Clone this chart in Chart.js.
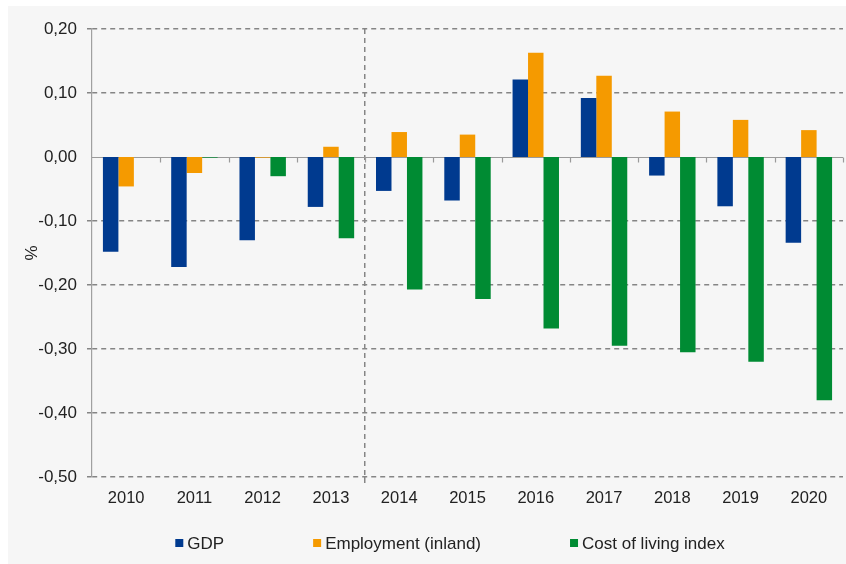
<!DOCTYPE html>
<html>
<head>
<meta charset="utf-8">
<script src="https://cdn.jsdelivr.net/npm/chart.js@4/dist/chart.umd.min.js"></script>
<style>
  html, body { margin: 0; padding: 0; background: #ffffff; }
  #wrap { width: 846px; height: 564px; }
</style>
</head>
<body>
<div id="wrap"><canvas id="c" width="846" height="564"></canvas></div>
<script>
const years = ['2010','2011','2012','2013','2014','2015','2016','2017','2018','2019','2020'];
const gdp = [-0.148, -0.172, -0.130, -0.078, -0.053, -0.068, 0.121, 0.092, -0.029, -0.077, -0.134];
const employment = [-0.046, -0.025, -0.001, 0.016, 0.039, 0.035, 0.163, 0.127, 0.071, 0.058, 0.042];
const costOfLiving = [0, -0.001, -0.030, -0.127, -0.207, -0.222, -0.268, -0.295, -0.305, -0.320, -0.380];
const seriesNames = ['GDP', 'Employment (inland)', 'Cost of living index'];
const seriesColors = ['#003a8f', '#f59a00', '#008b33'];
const yMin = -0.5, yMax = 0.2, yStep = 0.1;
const yTitle = '%';

const FONT = '"Liberation Sans", Arial, sans-serif';
const GRID = '#858585';

const panelPlugin = {
  id: 'panel',
  beforeDraw(chart) {
    const ctx = chart.ctx;
    ctx.save();
    ctx.fillStyle = '#ffffff';
    ctx.fillRect(0, 0, chart.width, chart.height);
    ctx.fillStyle = '#f6f6f6';
    ctx.fillRect(8, 6, chart.width - 8, chart.height - 6);
    ctx.restore();
  }
};

const zeroLinePlugin = {
  id: 'zeroLine',
  beforeDatasetsDraw(chart) {
    const {ctx, chartArea, scales} = chart;
    const y0 = Math.round(scales.y.getPixelForValue(0)) + 0.5;
    ctx.save();
    ctx.strokeStyle = '#9a9a9a';
    ctx.lineWidth = 1.2;
    ctx.beginPath();
    ctx.moveTo(chartArea.left, y0);
    ctx.lineTo(chartArea.right, y0);
    const n = years.length;
    const step = (scales.x.getPixelForValue(1) - scales.x.getPixelForValue(0));
    for (let i = 1; i <= n; i++) {
      const x = Math.round(scales.x.getPixelForValue(i) - step / 2) + 0.5;
      ctx.moveTo(x, y0);
      ctx.lineTo(x, y0 + 5);
    }
    ctx.stroke();
    ctx.restore();
  }
};

const legendPlugin = {
  id: 'customLegend',
  afterDraw(chart) {
    const ctx = chart.ctx;
    ctx.save();
    ctx.font = '17px ' + FONT;
    ctx.textBaseline = 'middle';
    const box = 8, gap = 4, spacing = 89;
    const items = chart.data.datasets.map(d => ({
      text: d.label, color: d.backgroundColor, w: ctx.measureText(d.label).width
    }));
    const total = items.reduce((s, it) => s + box + gap + it.w, 0) + spacing * (items.length - 1);
    let x = 450 - total / 2;
    const cy = 543;
    items.forEach(it => {
      ctx.fillStyle = it.color;
      ctx.fillRect(x, cy - box / 2, box, box);
      ctx.fillStyle = '#222222';
      ctx.fillText(it.text, x + box + gap, cy + 1);
      x += box + gap + it.w + spacing;
    });
    ctx.restore();
  }
};

const fmt = v => {
  const r = Math.round(v * 100) / 100;
  if (r === 0) return '0,00';
  return r.toFixed(2).replace('.', ',');
};

new Chart(document.getElementById('c'), {
  type: 'bar',
  data: {
    labels: years,
    datasets: [
      { label: seriesNames[0], data: gdp, backgroundColor: seriesColors[0] },
      { label: seriesNames[1], data: employment, backgroundColor: seriesColors[1] },
      { label: seriesNames[2], data: costOfLiving, backgroundColor: seriesColors[2] }
    ]
  },
  options: {
    responsive: false,
    animation: false,
    devicePixelRatio: 1,
    categoryPercentage: 0.68,
    barPercentage: 1.0,
    layout: { padding: { top: 29, right: 3, left: 12, bottom: 0 } },
    plugins: {
      legend: { display: false },
      tooltip: { enabled: false },
      title: { display: false }
    },
    scales: {
      x: {
        offset: true,
        grid: {
          offset: true,
          color: c => c.index === 4 ? GRID : 'rgba(0,0,0,0)',
          lineWidth: 1.5,
          tickLength: 6,
          drawTicks: true
        },
        border: { display: false, dash: [5, 4] },
        ticks: { color: '#222222', font: { family: FONT, size: 16.5 }, padding: 6, maxRotation: 0 },
        afterFit: s => { s.height = 87; }
      },
      y: {
        min: yMin,
        max: yMax,
        ticks: {
          stepSize: yStep,
          color: '#222222',
          font: { family: FONT, size: 17 },
          padding: 10,
          callback: v => fmt(v)
        },
        grid: {
          color: c => (c.tick && Math.abs(c.tick.value) < 1e-9) ? 'rgba(0,0,0,0)' : GRID,
          lineWidth: 1.5,
          tickLength: 5
        },
        border: { display: true, color: '#a0a0a0', width: 1.2, dash: [5, 4] },
        title: {
          display: true,
          text: yTitle,
          color: '#222222',
          font: { family: FONT, size: 17 },
          padding: { top: 10, bottom: 0 }
        },
        afterFit: s => { s.width = 80; }
      }
    }
  },
  plugins: [panelPlugin, zeroLinePlugin, legendPlugin]
});
</script>
</body>
</html>
